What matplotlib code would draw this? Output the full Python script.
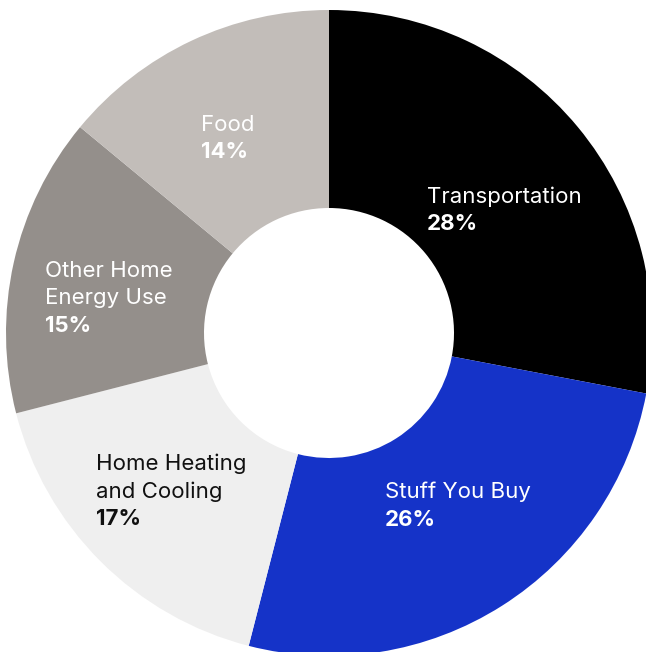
import matplotlib.pyplot as plt

# Carbon footprint share by category
categories = ["Transportation", "Stuff You Buy", "Home Heating\nand Cooling",
              "Other Home\nEnergy Use", "Food"]
shares = [28, 26, 17, 15, 14]
colors = ["#000000", "#1533C8", "#EFEFEF", "#948F8B", "#C2BDB9"]
text_colors = ["white", "white", "#111111", "white", "white"]

W, H = 646, 652
# label anchor: left x and baseline of first line, in pixels from top-left
label_pos = [(427, 203), (385, 498), (96, 470), (45, 277), (201, 131)]
LINE = 27.5

plt.rcParams["font.family"] = ["Inter", "DejaVu Sans"]

fig = plt.figure(figsize=(W / 100, H / 100), dpi=100)
ax = fig.add_axes([0, 0, 1, 1])

cx, cy = 329, H - 333
ax.pie(shares, colors=colors, startangle=90, counterclock=False,
       center=(cx, cy), radius=323,
       wedgeprops=dict(width=198, linewidth=0))

for name, val, tc, (x, y) in zip(categories, shares, text_colors, label_pos):
    lines = name.split("\n")
    for i, line in enumerate(lines):
        ax.text(x, H - (y + i * LINE), line, color=tc, fontsize=16,
                ha="left", va="baseline")
    ax.text(x, H - (y + len(lines) * LINE), f"{val}%", color=tc, fontsize=16,
            fontweight="bold", ha="left", va="baseline")

ax.set_xlim(0, W)
ax.set_ylim(0, H)
ax.set_aspect("equal")
ax.axis("off")

fig.savefig("out.png", dpi=100)
